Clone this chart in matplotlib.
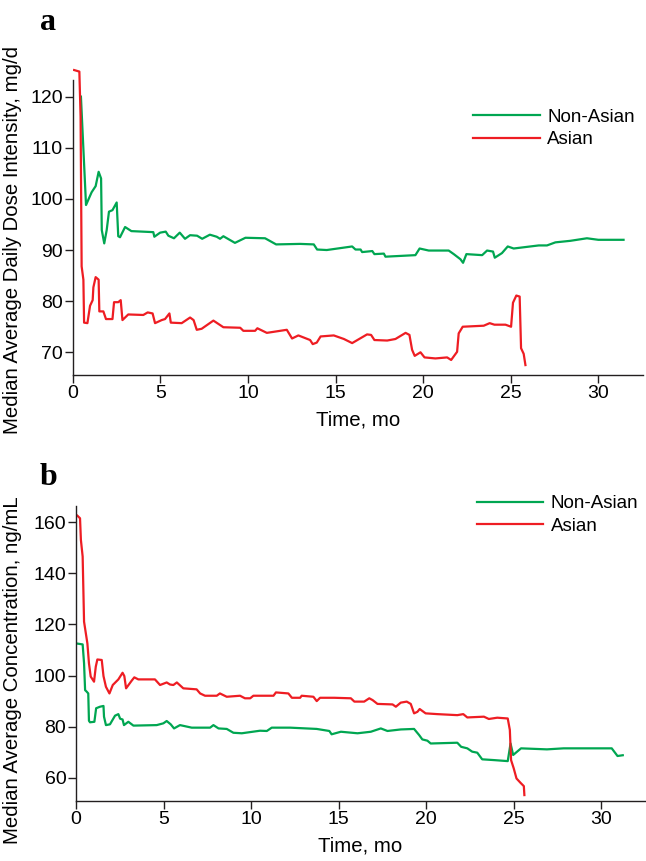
import matplotlib.pyplot as plt

plt.rcParams['font.family'] = ['Liberation Sans', 'DejaVu Sans']

# panel a: median average daily dose intensity (mg/d)
t_dose_non = [0.47, 0.76, 1.08, 1.31, 1.48, 1.62, 1.66, 1.80, 1.94, 2.07, 2.27, 2.51,
              2.60, 2.70, 2.99, 3.35, 4.60, 4.66, 4.99, 5.31, 5.46, 5.78, 6.11, 6.41,
              6.70, 7.10, 7.39, 7.83, 8.22, 8.41, 8.60, 9.26, 9.86, 10.98, 11.61, 12.98,
              13.76, 13.95, 14.5, 15.95, 16.14, 16.43, 16.52, 17.1, 17.22, 17.76, 17.85,
              19.56, 19.8, 20.32, 21.46, 21.75, 22.13, 22.28, 22.47, 23.37, 23.65, 23.99,
              24.09, 24.5, 24.83, 25.17, 26.6, 27.07, 27.55, 28.4, 29.35, 30.0, 31.44]
dose_non = [120, 98.8, 101.3, 102.5, 105.3, 104, 93.9, 91.3, 93.9, 97.5, 97.8, 99.3,
            92.7, 92.5, 94.5, 93.7, 93.5, 92.6, 93.4, 93.6, 92.8, 92.3, 93.4, 92.2,
            92.9, 92.8, 92.2, 93.0, 92.6, 92.2, 92.7, 91.4, 92.4, 92.3, 91.1, 91.2,
            91.1, 90.1, 90.0, 90.7, 90.1, 90.1, 89.6, 89.8, 89.2, 89.3, 88.7,
            89.0, 90.3, 89.9, 89.9, 89.2, 88.2, 87.5, 89.2, 89.0, 89.9, 89.7,
            88.5, 89.4, 90.7, 90.3, 90.9, 90.9, 91.5, 91.8, 92.3, 92.0, 92.0]

t_dose_asian = [0.08, 0.38, 0.45, 0.51, 0.61, 0.65, 0.84, 0.99, 1.14, 1.18, 1.31, 1.48,
                1.52, 1.75, 1.90, 2.27, 2.36, 2.60, 2.74, 2.84, 3.17, 4.03, 4.28, 4.56,
                4.70, 5.08, 5.27, 5.52, 5.60, 6.22, 6.70, 6.90, 7.08, 7.36, 8.03, 8.60,
                9.56, 9.74, 10.41, 10.54, 11.08, 12.22, 12.52, 12.88, 13.55, 13.70, 13.93,
                14.15, 14.9, 15.48, 15.95, 16.8, 17.03, 17.22, 17.95, 18.42, 19.0, 19.22,
                19.37, 19.52, 19.85, 20.08, 20.7, 21.37, 21.6, 21.94, 22.03, 22.26, 23.46,
                23.8, 24.07, 24.7, 25.02, 25.13, 25.32, 25.51, 25.59, 25.74, 25.84]
dose_asian = [125.2, 124.9, 116.1, 86.8, 84.2, 75.8, 75.7, 79.1, 80.2, 82.7, 84.7, 84.2,
              78.0, 78.0, 76.5, 76.5, 79.8, 79.8, 80.2, 76.3, 77.4, 77.3, 77.8, 77.6,
              75.7, 76.3, 76.5, 77.6, 75.8, 75.7, 76.8, 76.3, 74.4, 74.6, 76.2, 74.9,
              74.8, 74.2, 74.2, 74.7, 73.8, 74.4, 72.7, 73.3, 72.4, 71.6, 71.9,
              73.1, 73.3, 72.6, 71.8, 73.5, 73.4, 72.4, 72.3, 72.6, 73.8, 73.4,
              70.5, 69.3, 70.0, 69.0, 68.8, 69.0, 68.5, 70.1, 73.7, 75.0, 75.2,
              75.7, 75.4, 75.4, 75.0, 79.7, 81.1, 80.9, 70.8, 69.7, 67.5]

# panel b: median average concentration (ng/mL)
t_conc_non = [0.0, 0.38, 0.46, 0.52, 0.61, 0.70, 0.74, 0.80, 1.05, 1.15, 1.37, 1.57,
              1.60, 1.71, 1.94, 2.23, 2.42, 2.52, 2.66, 2.74, 2.99, 3.28, 4.61, 4.99,
              5.18, 5.41, 5.60, 5.94, 6.61, 7.66, 7.85, 8.14, 8.61, 8.99, 9.47, 10.51,
              10.90, 11.18, 12.23, 13.75, 14.47, 14.6, 15.13, 16.08, 16.84, 17.41, 17.79,
              18.55, 19.31, 19.6, 19.78, 20.07, 20.26, 21.78, 22.0, 22.35, 22.63, 22.92,
              23.2, 23.87, 24.66, 24.82, 24.97, 25.42, 26.9, 27.85, 30.6, 30.93, 31.23]
conc_non = [112.6, 112.2, 104.8, 94.3, 93.7, 93.0, 82.3, 81.7, 81.9, 87.2, 87.8, 88.1,
            83.9, 80.6, 80.9, 84.3, 84.9, 83.1, 82.8, 80.6, 81.9, 80.4, 80.6, 81.3,
            82.2, 80.9, 79.3, 80.6, 79.6, 79.6, 80.6, 79.3, 79.1, 77.6, 77.4, 78.4,
            78.3, 79.6, 79.6, 79.1, 78.3, 77.0, 78.0, 77.4, 78.0, 79.3, 78.3,
            78.9, 79.1, 76.7, 75.0, 74.5, 73.4, 73.7, 72.1, 71.5, 70.2, 69.8,
            67.2, 66.9, 66.5, 73.4, 68.9, 71.5, 71.1, 71.5, 71.5, 68.5, 68.8]

t_conc_asian = [0.08, 0.23, 0.28, 0.38, 0.46, 0.65, 0.74, 0.84, 1.03, 1.13, 1.22, 1.47,
                1.57, 1.71, 1.91, 2.10, 2.42, 2.66, 2.76, 2.86, 3.18, 3.33, 3.56, 4.51,
                4.80, 5.18, 5.37, 5.56, 5.76, 6.13, 6.89, 7.09, 7.37, 8.04, 8.22, 8.61,
                9.37, 9.65, 9.95, 10.13, 11.28, 11.42, 12.13, 12.33, 12.80, 12.89, 13.56,
                13.75, 13.94, 14.75, 15.7, 15.9, 16.46, 16.75, 16.94, 17.22, 18.08, 18.27,
                18.55, 18.89, 19.12, 19.31, 19.5, 19.63, 19.97, 20.64, 21.78, 22.12, 22.35,
                23.3, 23.58, 24.06, 24.66, 24.78, 24.85, 25.0, 25.16, 25.39, 25.58, 25.61]
conc_asian = [162.6, 161.6, 153.1, 146.6, 121.1, 112.6, 104.8, 99.6, 97.6, 103.5, 106.3, 106.1,
              99.8, 95.6, 93.0, 96.3, 98.5, 101.1, 99.8, 95.0, 98.0, 99.3, 98.5, 98.5,
              96.3, 97.3, 96.5, 96.3, 97.3, 95.0, 94.6, 93.0, 92.1, 92.1, 93.0, 91.7,
              92.1, 91.1, 91.1, 92.1, 92.1, 93.4, 93.0, 91.3, 91.3, 92.1, 91.7,
              90.0, 91.3, 91.3, 91.1, 89.8, 89.8, 91.1, 90.4, 88.9, 88.7, 87.8,
              89.4, 89.8, 88.9, 85.2, 85.8, 86.9, 85.2, 84.9, 84.5, 84.9, 83.6,
              83.9, 83.0, 83.5, 83.2, 78.7, 66.9, 63.7, 59.7, 58.0, 56.7, 53.2]

green = '#00a651'
red = '#ee1d23'
ink = '#231f20'
W, H = 646, 861

fig = plt.figure(figsize=(W / 100, H / 100), dpi=100)


def setup(ax, ylim, ytop, yticks, ylabel):
    ax.set_ylim(*ylim)
    ax.set_yticks(yticks)
    ax.set_xticks([0, 5, 10, 15, 20, 25, 30])
    for s in ['top', 'right']:
        ax.spines[s].set_visible(False)
    for s in ['left', 'bottom']:
        ax.spines[s].set_color(ink)
        ax.spines[s].set_linewidth(1.0)
    ax.spines['left'].set_bounds(ylim[0], ytop)
    ax.tick_params(direction='out', length=5.5, width=1.0, color=ink, pad=1.5,
                   labelsize=14, labelcolor='black')
    ax.set_xlabel('Time, mo', fontsize=14.7, labelpad=6.5)
    ax.set_ylabel(ylabel, fontsize=14.7)
    ax.patch.set_visible(False)


# panel a
ax1 = fig.add_axes([72.7 / W, 1 - 375 / H, (643 - 72.7) / W, (375 - 68) / H])
l1, = ax1.plot(t_dose_non, dose_non, color=green, lw=1.6, label='Non-Asian')
l2, = ax1.plot(t_dose_asian, dose_asian, color=red, lw=1.6, label='Asian')
ax1.set_xlim(0, 32.55)
setup(ax1, (65.56, 125.6), 123.3, [70, 80, 90, 100, 110, 120],
      'Median Average Daily Dose Intensity, mg/d')
ax1.yaxis.set_label_coords(-0.089, 0.44)
ax1.legend(handles=[l1, l2], loc='center left', frameon=False, fontsize=13.5,
           handlelength=3.55, handletextpad=0.4, labelspacing=0.3,
           borderpad=0, borderaxespad=0,
           bbox_to_anchor=(473 / W, 1 - 128.5 / H), bbox_transform=fig.transFigure)
fig.text(40 / W, 1 - 30 / H, 'a', fontsize=23, fontweight='bold',
         family='Liberation Serif', ha='left', va='baseline')

# panel b
ax2 = fig.add_axes([76 / W, 1 - 801 / H, (645 - 76) / W, (801 - 506) / H])
m1, = ax2.plot(t_conc_non, conc_non, color=green, lw=1.6, label='Non-Asian')
m2, = ax2.plot(t_conc_asian, conc_asian, color=red, lw=1.6, label='Asian')
ax2.set_xlim(0, 32.5)
setup(ax2, (50.88, 166.4), 166.4, [60, 80, 100, 120, 140, 160],
      'Median Average Concentration, ng/mL')
ax2.yaxis.set_label_coords(-0.095, 0.444)
ax2.legend(handles=[m1, m2], loc='center left', frameon=False, fontsize=13.5,
           handlelength=3.55, handletextpad=0.4, labelspacing=0.3,
           borderpad=0, borderaxespad=0,
           bbox_to_anchor=(476.7 / W, 1 - 515 / H), bbox_transform=fig.transFigure)
fig.text(40 / W, 1 - 485 / H, 'b', fontsize=23, fontweight='bold',
         family='Liberation Serif', ha='left', va='baseline')

fig.savefig('out.png', dpi=100)
